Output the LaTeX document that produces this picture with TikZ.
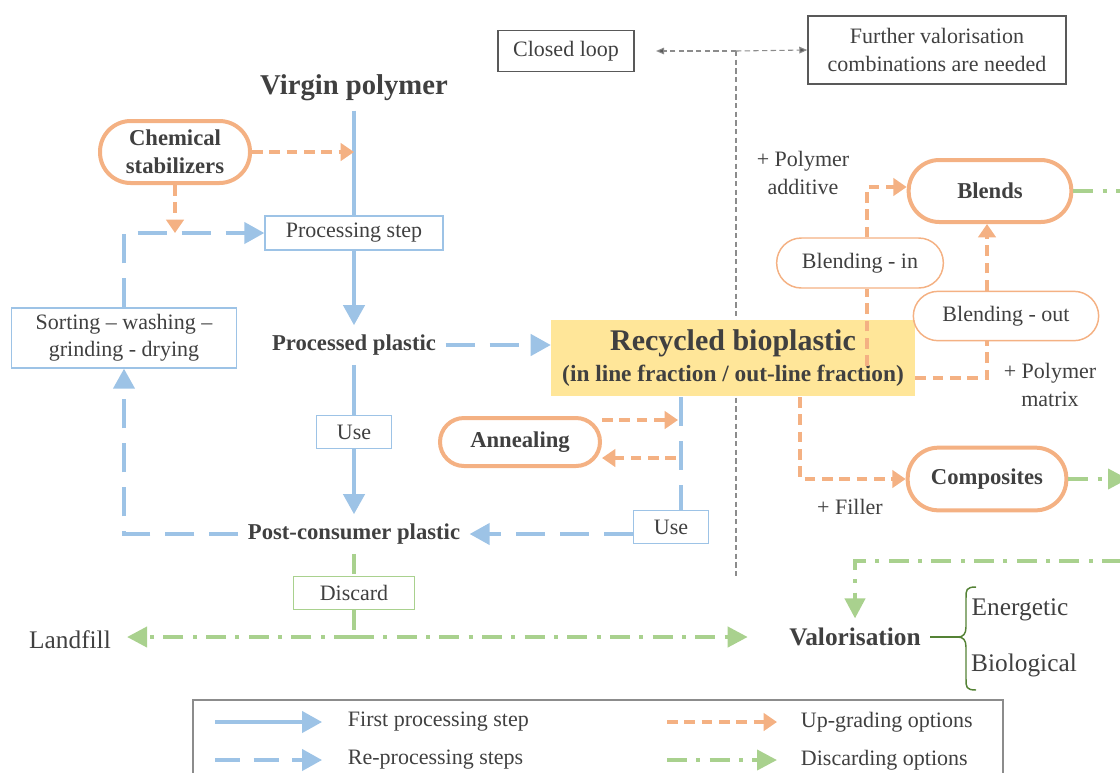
\documentclass[tikz,border=0pt]{standalone}
\usepackage{fontspec}
\setmainfont{Liberation Serif}
\usetikzlibrary{arrows.meta,calc}
\definecolor{cblue}{HTML}{9DC3E6}
\definecolor{corange}{HTML}{F4B183}
\definecolor{cgreen}{HTML}{A9D18E}
\definecolor{cyellow}{HTML}{FFE699}
\definecolor{ctext}{HTML}{404040}
\definecolor{cbox}{HTML}{595959}
\definecolor{cgray}{HTML}{8C8C8C}
\definecolor{cdgreen}{HTML}{548235}
\begin{document}
\begin{tikzpicture}[x=0.75pt,y=-0.75pt,
  every node/.style={text=ctext},
  lbl/.style={font=\fontsize{16.5}{20.5}\selectfont, align=center, inner sep=2pt},
  bld/.style={font=\fontsize{17}{21}\selectfont\bfseries, align=center, inner sep=7pt},
  big/.style={font=\fontsize{21.5}{25}\selectfont\bfseries, inner sep=7pt},
  large/.style={font=\fontsize{19}{23}\selectfont, inner sep=7pt},
  gbox/.style={lbl, draw=cbox, line width=1.1pt},
  bbox/.style={lbl, draw=cblue, line width=1.1pt},
  pillthick/.style={bld, draw=corange, line width=3pt, inner sep=2pt},
  pillthin/.style={lbl, draw=corange, line width=1.1pt},
  bline/.style={draw=cblue, line width=2.5pt},
  barr/.style={-{Triangle[length=15pt,width=16pt]}},
  bdash/.style={bline, dash pattern=on 22pt off 11pt},
  odash/.style={draw=corange, line width=3pt, dash pattern=on 8pt off 5pt},
  oarr/.style={-{Triangle[length=10pt,width=13pt]}},
  gdd/.style={draw=cgreen, line width=3pt, dash pattern=on 15pt off 7pt on 3pt off 7pt},
  garr/.style={-{Triangle[length=15pt,width=15pt]}},
  gydash/.style={draw=cgray, line width=0.8pt, dash pattern=on 4pt off 2.5pt},
  gyarr/.style={-{Triangle[length=6pt,width=5pt,fill=cbox]}}
]
\useasboundingbox (0,0) rectangle (1120,772);

% top boxes and gray dashed lines
\node[gbox, minimum width=102pt, minimum height=31pt] (cl) at (566,51) {Closed loop};
\node[gbox, minimum width=193.5pt, minimum height=51pt] (fv) at (937,50) {Further valorisation\\combinations are needed};
\coordinate (gj) at (736,51);
\coordinate (gb) at (736,578);
\draw[gydash, gyarr, shorten >=16pt] (gj) -- (cl.east);
\draw[gydash, gyarr] (gj) -- (fv.west);
\draw[gydash] (gj) -- (gb);

% left column
\node[big] (vp) at (354,88) {Virgin polymer};
\node[pillthick, minimum width=112.5pt, minimum height=46.5pt, rounded corners=23pt] (cs) at (175,152) {Chemical\\stabilizers};
\node[bbox, minimum width=133.5pt, minimum height=25.5pt] (ps) at (354,233) {Processing step};
\node[bbox, minimum width=169pt, minimum height=45pt] (sw) at (124,338) {Sorting -- washing --\\grinding - drying};
\node[bld] (pp) at (354,345) {Processed plastic};
\node[bbox, minimum width=56pt, minimum height=25pt] (use1) at (354,432) {Use};
\node[bld] (pc) at (354,534) {Post-consumer plastic};
\node[lbl, draw=cgreen, line width=1.1pt, minimum width=91pt, minimum height=25pt] (dc) at (354,593) {Discard};
\node[large] (lf) at (70,640) {Landfill};

% centre
\node[fill=cyellow, minimum width=273pt, minimum height=57pt, align=center, inner sep=0pt] (rb) at (733,358)
  {{\fontsize{22.5}{25}\selectfont\bfseries Recycled bioplastic}\\[5pt]{\fontsize{17.5}{20}\selectfont\bfseries (in line fraction / out-line fraction)}};
\node[pillthick, minimum width=120pt, minimum height=36pt, rounded corners=18pt] (an) at (520,442) {Annealing};
\node[bbox, minimum width=56pt, minimum height=25pt] (use2) at (671,527) {Use};

% right
\node[pillthick, minimum width=122pt, minimum height=46.5pt, rounded corners=23pt] (bl) at (990,191) {Blends};
\node[pillthin, minimum width=125pt, minimum height=37.5pt, rounded corners=18.5pt] (bin) at (860,263) {Blending - in};
\node[pillthin, minimum width=139pt, minimum height=37pt, rounded corners=18.5pt] (bout) at (1006,316) {Blending - out};
\node[pillthick, minimum width=119pt, minimum height=47pt, rounded corners=23pt] (comp) at (987,479) {Composites};
\node[lbl] (pa) at (803,173) {+ Polymer\\additive};
\node[lbl] (pm) at (1050,385) {+ Polymer\\matrix};
\node[lbl] (fl) at (850,507) {+ Filler};
\node[large, font=\fontsize{19}{23}\selectfont\bfseries] (val) at (855,637) {Valorisation};
\node[large, inner sep=2pt] (en) at (1020,610) {Energetic};
\node[large, inner sep=2pt] (bio) at (1024,665) {Biological};

% blue connectors
\draw[bline] (vp.south) -- (ps.north);
\draw[bline, barr] (ps.south) -- (pp.north);
\draw[bline] (pp.south) -- (use1.north);
\draw[bline, barr] (use1.south) -- (pc.north);
\draw[bdash, barr] (sw.north) |- (ps.west);
\draw[bdash, barr] (pc.west) -| (sw.south);
\draw[bdash, barr] (pp.east) -- (pp.east -| rb.west);
\coordinate (rbu) at (681,397);
\draw[bdash] (rbu) -- (rbu |- use2.north);
\draw[bdash, barr] (pc.east -| use2.west) -- (pc.east);

% orange connectors
\draw[odash, oarr] (cs.east) -- (cs.east -| vp.south);
\draw[odash, oarr] (cs.south) -- (cs.south |- ps.west);
\coordinate (at1) at (678,420);
\coordinate (at2) at (676,458);
\draw[odash, oarr] (an.east |- at1) -- (at1);
\draw[odash, oarr] (at2) -- (an.east |- at2);
\coordinate (bi) at (867,366);
\draw[odash] (bi) -- (bi |- bin.south);
\draw[odash, oarr] (bi |- bin.north) |- ($(bl.west)+(0,-4)$);
\coordinate (bo) at (987,378);
\draw[odash] (rb.east |- bo) -- (bo) -- (bo |- bout.south);
\draw[odash, oarr] (bo |- bout.north) -- (bo |- bl.south);
\coordinate (cf) at (800,397);
\draw[odash, oarr] (cf) |- (comp.west);

% green connectors
\coordinate (re1) at (1122,191);
\coordinate (re2) at (1128,479);
\coordinate (re3) at (1122,561);
\draw[gdd] (bl.east) -- (re1);
\draw[gdd, garr] (comp.east) -- (re2);
\draw[gdd, garr] (re3) -| (val.north);
\draw[gdd] (pc.south) -- (dc.north);
\coordinate (dj) at (354,637);
\draw[gdd] (dc.south) -- (dj);
\draw[gdd, garr, shorten >=5pt] (dj) -- (dj -| lf.east);
\draw[gdd, garr, shorten >=24pt] (dj) -- (dj -| val.west);

% brace
\coordinate (bt) at (958,637);
\draw[cdgreen, line width=1.1pt] (val.east |- bt) -- (bt);
\draw[cdgreen, line width=1.1pt] (976,587) .. controls (966,587) and (966,590) .. (966,598) -- (966,627)
  .. controls (966,634) and (963,637) .. (bt) .. controls (963,637) and (966,640) .. (966,647)
  -- (966,679) .. controls (966,687) and (966,690) .. (976,690);

% legend
\draw[cgray, line width=1pt] (193,775) -- (193,700) -- (1003,700) -- (1003,775);
\coordinate (l1a) at (215,722); \coordinate (l1b) at (322,722);
\coordinate (l2a) at (215,760); \coordinate (l2b) at (322,760);
\coordinate (l3a) at (667,722); \coordinate (l3b) at (777,722);
\coordinate (l4a) at (667,760); \coordinate (l4b) at (777,760);
\draw[bline, barr] (l1a) -- (l1b);
\draw[bdash, dash pattern=on 19pt off 10pt, barr] (l2a) -- (l2b);
\draw[odash, oarr] (l3a) -- (l3b);
\draw[gdd, garr] (l4a) -- (l4b);
\node[lbl, anchor=west] (t1) at (345,722) {First processing step};
\node[lbl, anchor=west] (t2) at (345,760) {Re-processing steps};
\node[lbl, anchor=west] (t3) at (798,722) {Up-grading options};
\node[lbl, anchor=west] (t4) at (798,760) {Discarding options};
\end{tikzpicture}
\end{document}
